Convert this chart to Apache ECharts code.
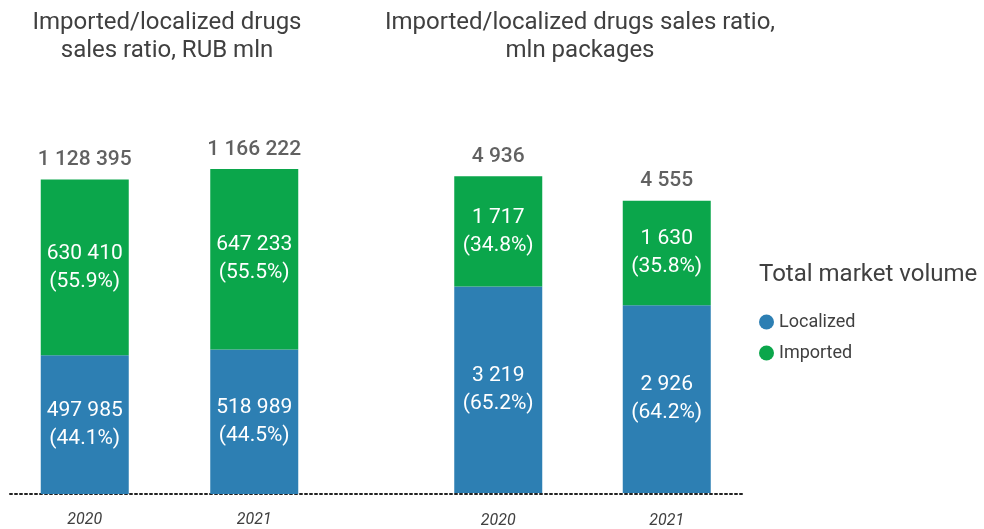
<!DOCTYPE html>
<html>
<head>
<meta charset="utf-8">
<script src="https://cdn.jsdelivr.net/npm/echarts@6/dist/echarts.min.js"></script>
<style>
  html, body { margin: 0; padding: 0; background: #fff; }
  #chart { width: 984px; height: 529px; }
</style>
</head>
<body>
<div id="chart"></div>
<script>
// Sales of drugs split by origin, 2020 vs 2021
var years = ['2020', '2021'];

// Money terms, RUB mln
var rubLocalized = [497985, 518989];
var rubImported  = [630410, 647233];
var rubTotal     = [1128395, 1166222];

// Physical terms, mln packages
var pkgLocalized = [3219, 2926];
var pkgImported  = [1717, 1630];
var pkgTotal     = [4936, 4555];

var GREEN = '#0BA64B';
var BLUE = '#2D7FB3';
var TEXT = '#404040';
var FONT = 'Roboto, "Noto Sans", sans-serif';

function fmt(n) {
  return String(n).replace(/\B(?=(\d{3})+(?!\d))/g, ' ');
}

function insideLabel(totals) {
  return {
    show: true,
    position: 'inside',
    color: '#fff',
    fontSize: 21,
    lineHeight: 28,
    fontFamily: FONT,
    formatter: function (p) {
      var pct = (p.value / totals[p.dataIndex] * 100).toFixed(1);
      return fmt(p.value) + '\n(' + pct + '%)';
    }
  };
}

function barSeries(name, data, totals, gi, stack, color) {
  return {
    name: name,
    type: 'bar',
    stack: stack,
    xAxisIndex: gi,
    yAxisIndex: gi,
    barWidth: 88,
    data: data,
    itemStyle: { color: color },
    label: insideLabel(totals),
    emphasis: { disabled: true }
  };
}

function totalSeries(data, gi) {
  return {
    name: 'Total',
    type: 'scatter',
    xAxisIndex: gi,
    yAxisIndex: gi,
    symbolSize: 0,
    data: data,
    silent: true,
    label: {
      show: true,
      position: 'top',
      distance: 9,
      color: '#3a3a3a',
      fontSize: 21,
      fontWeight: 500,
      fontFamily: FONT,
      formatter: function (p) { return fmt(p.value); }
    }
  };
}

function catAxis(gi, margin) {
  return {
    type: 'category',
    gridIndex: gi,
    data: years,
    axisLine: { show: false },
    axisTick: { show: false },
    axisLabel: {
      margin: margin,
      color: TEXT,
      fontSize: 16,
      fontStyle: 'italic',
      fontFamily: FONT
    }
  };
}

function valAxis(gi, max) {
  return {
    type: 'value',
    gridIndex: gi,
    min: 0,
    max: max,
    show: false
  };
}

var chart = echarts.init(document.getElementById('chart'), null, { renderer: 'canvas' });

var titleStyle = { color: TEXT, fontSize: 24, fontWeight: 'normal', lineHeight: 28, fontFamily: FONT };

chart.setOption({
  animation: false,
  textStyle: { fontFamily: FONT },
  title: [
    {
      text: 'Imported/localized drugs\nsales ratio, RUB mln',
      left: 162, top: 4, textAlign: 'center',
      textStyle: titleStyle
    },
    {
      text: 'Imported/localized drugs sales ratio,\nmln packages',
      left: 575, top: 4, textAlign: 'center',
      textStyle: titleStyle
    },
    {
      text: 'Total market volume',
      left: 754, top: 258,
      textStyle: { color: TEXT, fontSize: 24, fontWeight: 'normal', fontFamily: FONT }
    }
  ],
  legend: {
    data: ['Localized', 'Imported'],
    orient: 'vertical',
    left: 754, top: 308,
    icon: 'circle',
    itemWidth: 15, itemHeight: 15,
    itemGap: 13,
    selectedMode: false,
    textStyle: { color: TEXT, fontSize: 18, fontFamily: FONT }
  },
  grid: [
    { left: 0, width: 339, top: 76, bottom: 35 },
    { left: 414, width: 337, top: 108, bottom: 35 },
    // baseline running under both charts
    { left: 10, width: 732, top: 76, bottom: 35 }
  ],
  xAxis: [
    catAxis(0, 18),
    catAxis(1, 20),
    {
      type: 'value', gridIndex: 2, min: 0, max: 1,
      axisLine: { show: true, onZero: false, lineStyle: { color: '#222', width: 2, type: [2, 3] } },
      axisTick: { show: false }, axisLabel: { show: false }, splitLine: { show: false }
    }
  ],
  yAxis: [
    valAxis(0, 1500000),
    valAxis(1, 6000),
    { type: 'value', gridIndex: 2, show: false }
  ],
  series: [
    barSeries('Localized', rubLocalized, rubTotal, 0, 'rub', BLUE),
    barSeries('Imported', rubImported, rubTotal, 0, 'rub', GREEN),
    totalSeries(rubTotal, 0),
    barSeries('Localized', pkgLocalized, pkgTotal, 1, 'pkg', BLUE),
    barSeries('Imported', pkgImported, pkgTotal, 1, 'pkg', GREEN),
    totalSeries(pkgTotal, 1)
  ]
});
</script>
</body>
</html>
